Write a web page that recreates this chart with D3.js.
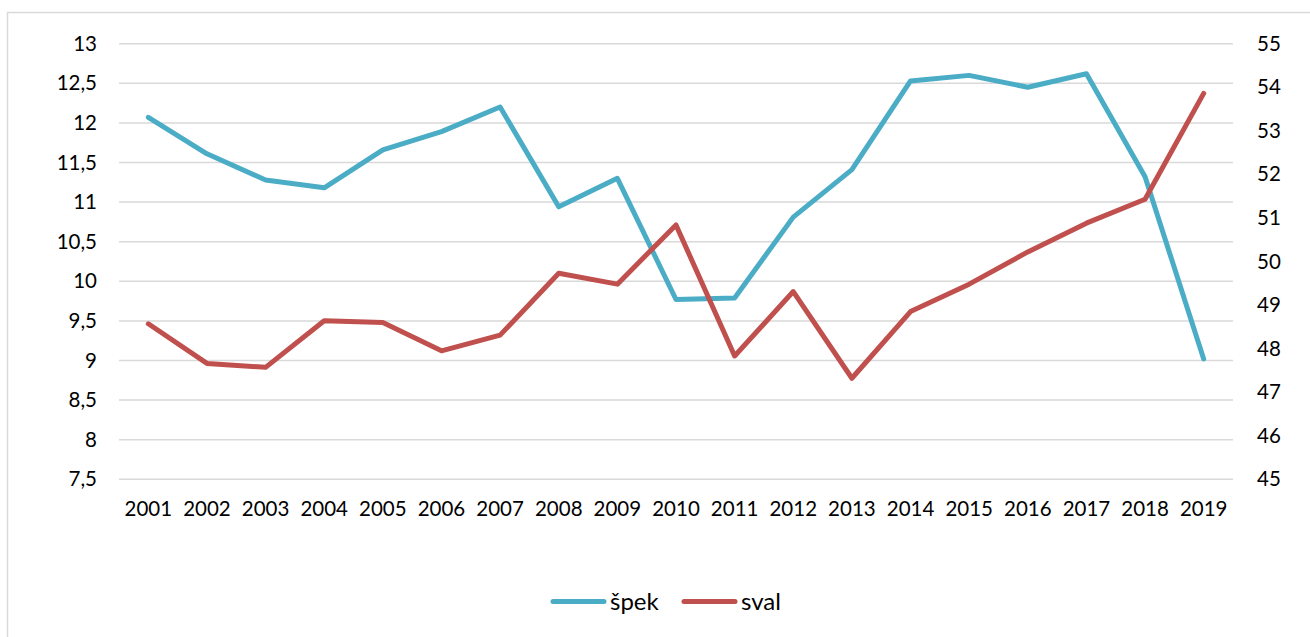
<!DOCTYPE html>
<html>
<head>
<meta charset="utf-8">
<script src="https://cdn.jsdelivr.net/npm/d3@7"></script>
<style>
  html, body { margin: 0; padding: 0; background: #fff; }
  svg { display: block; font-family: Lato, "Open Sans", sans-serif; }
</style>
</head>
<body>
<svg id="chart" width="1310" height="637"></svg>
<script>
// Years on the category axis
const years = ["2001","2002","2003","2004","2005","2006","2007","2008","2009","2010",
               "2011","2012","2013","2014","2015","2016","2017","2018","2019"];
// špek – plotted against the left axis
const spek = [12.07, 11.61, 11.28, 11.18, 11.66, 11.89, 12.20, 10.94, 11.30, 9.77,
              9.79, 10.81, 11.41, 12.53, 12.60, 12.45, 12.62, 11.32, 9.02];
// sval – plotted against the right axis
const sval = [48.57, 47.66, 47.57, 48.64, 48.60, 47.95, 48.31, 49.73, 49.48, 50.84,
              47.83, 49.31, 47.32, 48.85, 49.48, 50.22, 50.88, 51.43, 53.86];
// Axis tick values
const leftTicks = [7.5, 8, 8.5, 9, 9.5, 10, 10.5, 11, 11.5, 12, 12.5, 13];
const rightTicks = [45, 46, 47, 48, 49, 50, 51, 52, 53, 54, 55];
const seriesNames = ["špek", "sval"];
const colors = ["#4BACC6", "#C0504D"];

const svg = d3.select("#chart");
const plot = { left: 119, right: 1233, top: 43.7, bottom: 479.3 };

// Chart frame
svg.append("rect")
  .attr("x", 7.5).attr("y", 12.5)
  .attr("width", 1320).attr("height", 700)
  .attr("fill", "none").attr("stroke", "#d9d9d9").attr("stroke-width", 1.5);

const x = d3.scaleBand().domain(years).range([plot.left, plot.right]);
const yL = d3.scaleLinear().domain([7.5, 13]).range([plot.bottom, plot.top]);
const yR = d3.scaleLinear().domain([45, 55]).range([plot.bottom, plot.top]);

const fmt = v => String(v).replace(".", ",");

// Horizontal gridlines
svg.append("g").selectAll("line").data(leftTicks).join("line")
  .attr("x1", plot.left).attr("x2", plot.right)
  .attr("y1", d => yL(d)).attr("y2", d => yL(d))
  .attr("stroke", "#d9d9d9").attr("stroke-width", 1.5);

// Left axis
const gL = svg.append("g").attr("transform", `translate(${plot.left},0)`)
  .call(d3.axisLeft(yL).tickValues(leftTicks).tickFormat(fmt).tickSize(0).tickPadding(22));
gL.select(".domain").remove();
gL.selectAll("text").attr("font-size", 20.5).attr("fill", "#000").attr("font-family", "Lato, sans-serif");

// Right axis
const gR = svg.append("g").attr("transform", `translate(${plot.right},0)`)
  .call(d3.axisRight(yR).tickValues(rightTicks).tickSize(0).tickPadding(24));
gR.select(".domain").remove();
gR.selectAll("text").attr("font-size", 20.5).attr("fill", "#000").attr("font-family", "Lato, sans-serif");

// Bottom axis
const gB = svg.append("g").attr("transform", `translate(0,${plot.bottom})`)
  .call(d3.axisBottom(x).tickSize(0).tickPadding(22));
gB.select(".domain").remove();
gB.selectAll("text").attr("font-size", 20.5).attr("fill", "#000").attr("font-family", "Lato, sans-serif");

const cx = d => x(d) + x.bandwidth() / 2;

const lineL = d3.line().x((d, i) => cx(years[i])).y(d => yL(d));
const lineR = d3.line().x((d, i) => cx(years[i])).y(d => yR(d));

svg.append("path").datum(spek).attr("d", lineL)
  .attr("fill", "none").attr("stroke", colors[0]).attr("stroke-width", 5)
  .attr("stroke-linejoin", "round").attr("stroke-linecap", "round");
svg.append("path").datum(sval).attr("d", lineR)
  .attr("fill", "none").attr("stroke", colors[1]).attr("stroke-width", 5)
  .attr("stroke-linejoin", "round").attr("stroke-linecap", "round");

// Legend
const legendY = 601.5;
const legendItems = [{ x: 553, name: seriesNames[0], color: colors[0] },
                     { x: 684, name: seriesNames[1], color: colors[1] }];
const lg = svg.append("g").selectAll("g").data(legendItems).join("g");
lg.append("line")
  .attr("x1", d => d.x).attr("x2", d => d.x + 51)
  .attr("y1", legendY).attr("y2", legendY)
  .attr("stroke", d => d.color).attr("stroke-width", 5).attr("stroke-linecap", "round");
lg.append("text")
  .attr("x", d => d.x + 57).attr("y", legendY)
  .attr("dy", "0.35em")
  .attr("font-size", 24).attr("fill", "#000")
  .text(d => d.name);
</script>
</body>
</html>
